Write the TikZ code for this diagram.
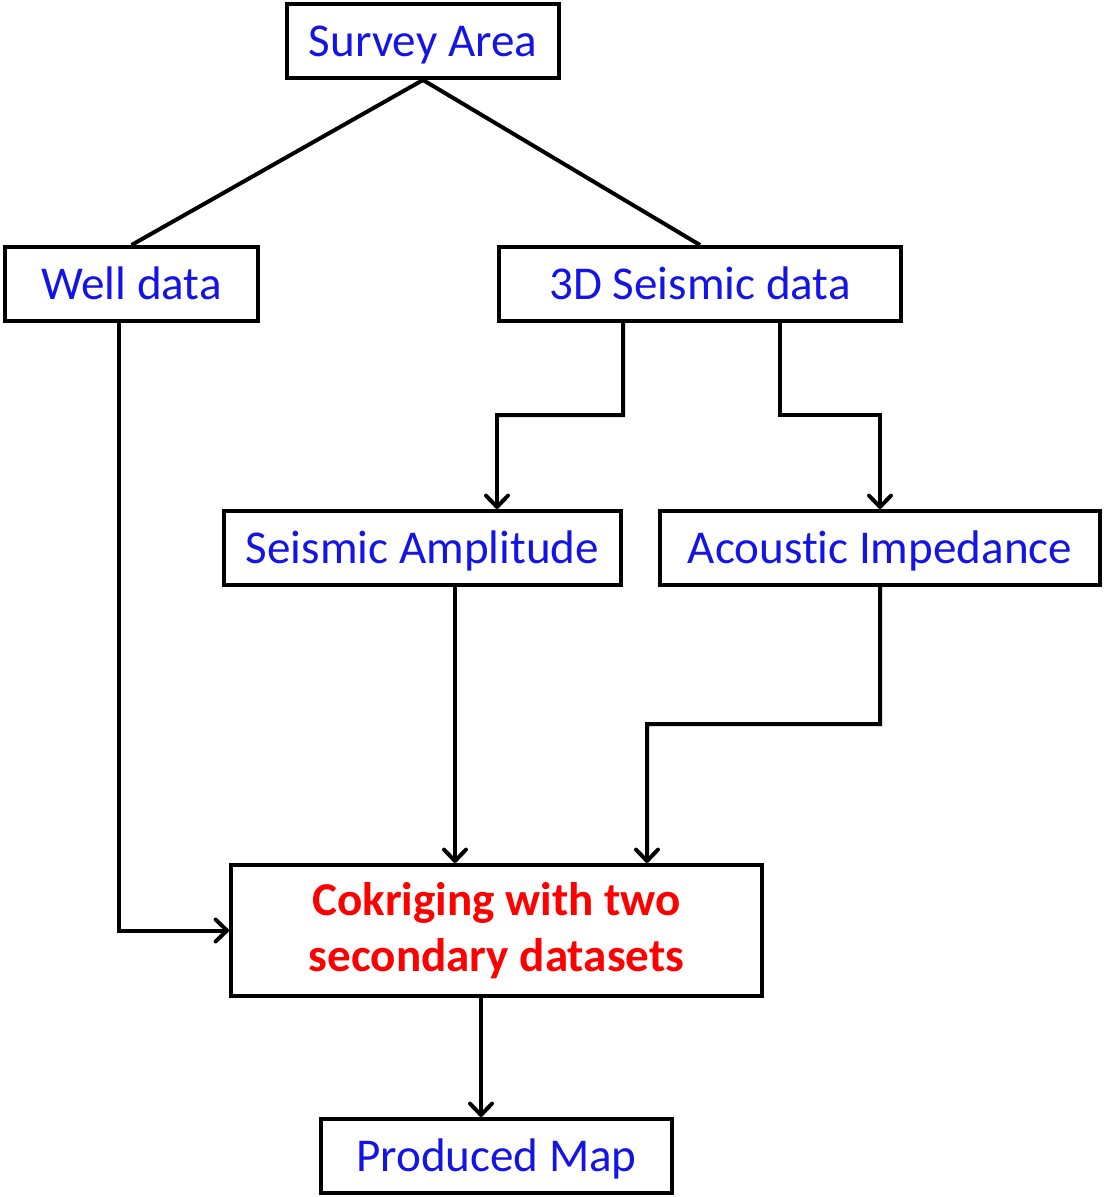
\documentclass[tikz,border=0pt]{standalone}
\usepackage{fontspec}
\setmainfont[Ligatures={NoCommon}]{Carlito}
\usetikzlibrary{arrows.meta}
\newlength{\du}
\setlength{\du}{0.02cm}
\definecolor{labelblue}{rgb}{0.08,0.08,0.90}
\definecolor{labelred}{rgb}{1.00,0.00,0.00}
\begin{document}
\begin{tikzpicture}[
  box/.style={draw=black, line width=2.27pt, minimum height=74\du, inner sep=0pt,
    text=labelblue, font=\fontsize{26.8}{32}\selectfont},
  oneline/.style={text height=21.6pt, text depth=3.6pt},
  link/.style={line width=2.27pt},
  arr/.style={line width=2.27pt, -{Straight Barb[length=6.5pt, width=12.5pt, round]}}
]
\pgftransformxscale{1.000000}
\pgftransformyscale{-1.000000}
\useasboundingbox (0\du,0\du) rectangle (1104\du,1197\du);
% boxes
\node[box, oneline, minimum width=272\du] (survey) at (423\du,41\du) {Survey Area};
\node[box, oneline, minimum width=253\du] (well) at (131.5\du,284\du) {Well data};
\node[box, oneline, minimum width=402\du] (seismic3d) at (700\du,284\du) {3D Seismic data};
\node[box, oneline, minimum width=397\du] (amplitude) at (422.5\du,548\du) {Seismic Amplitude};
\node[box, oneline, minimum width=440\du] (impedance) at (880\du,548\du) {Acoustic Impedance};
\node[box, minimum width=531\du, minimum height=131\du, text=labelred, align=center,
  font=\fontsize{26.8}{32}\selectfont\bfseries] (cokriging) at (496.5\du,930.5\du)
  {Cokriging with two\\secondary datasets};
\node[box, oneline, minimum width=351\du] (mapnode) at (496.5\du,1156\du) {Produced Map};
% connectors
\draw[link] (well.north) -- (survey.south) -- (seismic3d.north);
\draw[arr] ([xshift=-77\du]seismic3d.south) -- (623\du,415\du) -- (497\du,415\du)
  -- ([xshift=74.5\du]amplitude.north);
\draw[arr] ([xshift=80\du]seismic3d.south) -- (780\du,415\du) -- (880\du,415\du)
  -- (impedance.north);
\draw[arr] ([xshift=-12.5\du]well.south) |- (cokriging.west);
\draw[arr] ([xshift=32.5\du]amplitude.south) -- ([xshift=32.5\du]amplitude.south |- cokriging.north);
\draw[arr] (impedance.south) -- (880\du,724\du) -- (647\du,724\du)
  -- ([xshift=150.5\du]cokriging.north);
\draw[arr] ([xshift=-15.5\du]cokriging.south) -- ([xshift=-15.5\du]cokriging.south |- mapnode.north);
\end{tikzpicture}
\end{document}
